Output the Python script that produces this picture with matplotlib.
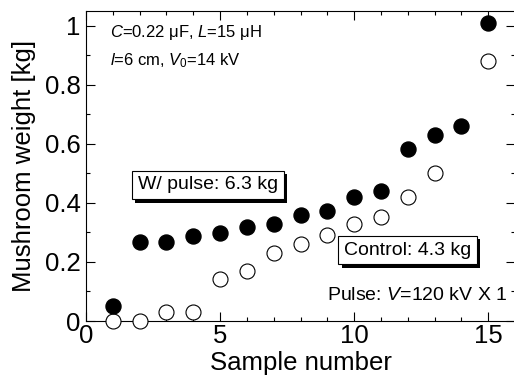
import matplotlib
matplotlib.use("Agg")
import matplotlib.pyplot as plt
import matplotlib.patheffects as pe

plt.rcParams["font.family"] = ["Liberation Sans", "DejaVu Sans"]
plt.rcParams["mathtext.fontset"] = "custom"
plt.rcParams["mathtext.rm"] = "Liberation Sans"
plt.rcParams["mathtext.it"] = "Liberation Sans:italic"

# sample data
pulse_samples = [1, 2, 3, 4, 5, 6, 7, 8, 9, 10, 11, 12, 13, 14, 15]
pulse_weight = [0.052, 0.269, 0.269, 0.289, 0.299, 0.320, 0.329, 0.359, 0.371,
                0.421, 0.442, 0.582, 0.631, 0.661, 1.011]
control_samples = [1, 2, 3, 4, 5, 6, 7, 8, 9, 10, 11, 12, 13, 15]
control_weight = [0.0, 0.0, 0.032, 0.032, 0.141, 0.169, 0.229, 0.260, 0.292,
                  0.329, 0.351, 0.421, 0.500, 0.881]

fig = plt.figure(figsize=(5.14, 3.85), dpi=100)
ax = fig.add_axes([0.1673, 0.1662, 0.8347, 0.8052])

ax.plot(control_samples, control_weight, "o", ms=10.8, mfc="white", mec="black",
        mew=0.8, clip_on=False, zorder=3)
ax.plot(pulse_samples, pulse_weight, "o", ms=10.8, mfc="black", mec="black",
        clip_on=False, zorder=4)

ax.set_xlim(0, 16)
ax.set_ylim(0, 1.05)
ax.set_xticks([0, 5, 10, 15])
ax.set_xticks(range(0, 17), minor=True)
ax.set_yticks([0, 0.2, 0.4, 0.6, 0.8, 1.0])
ax.set_yticklabels(["0", "0.2", "0.4", "0.6", "0.8", "1"])
ax.set_yticks([i / 10 for i in range(11)], minor=True)
ax.tick_params(which="both", direction="in", top=True, right=True, width=0.8)
ax.tick_params(which="major", length=6.5, labelsize=18.5)
ax.tick_params(which="minor", length=3.2)
ax.tick_params(axis="x", pad=2)
ax.tick_params(axis="y", pad=4)
for s in ax.spines.values():
    s.set_linewidth(0.8)

ax.set_xlabel("Sample number", fontsize=18.5, labelpad=2)
ax.set_ylabel("Mushroom weight [kg]", fontsize=18.5, labelpad=6)

ax.text(0.9, 0.976, "$C$=0.22 \u03bcF, $L$=15 \u03bcH", fontsize=12, va="center")
ax.text(0.9, 0.881, "$l$=6 cm, $V_0$=14 kV", fontsize=12, va="center")
ax.text(9.0, 0.085, "Pulse: $V$=120 kV X 1", fontsize=14, va="center")

box = dict(boxstyle="square,pad=0.3", fc="white", ec="black", lw=0.8)
shadow = [pe.withSimplePatchShadow(offset=(2.5, -2.5), shadow_rgbFace="black", alpha=1.0)]
for x, y, label in [(4.545, 0.461, "W/ pulse: 6.3 kg"), (11.99, 0.240, "Control: 4.3 kg")]:
    t = ax.text(x, y, label, fontsize=14, ha="center", va="center", bbox=box, zorder=5)
    t.get_bbox_patch().set_path_effects(shadow)

fig.savefig("out.png", dpi=100)
